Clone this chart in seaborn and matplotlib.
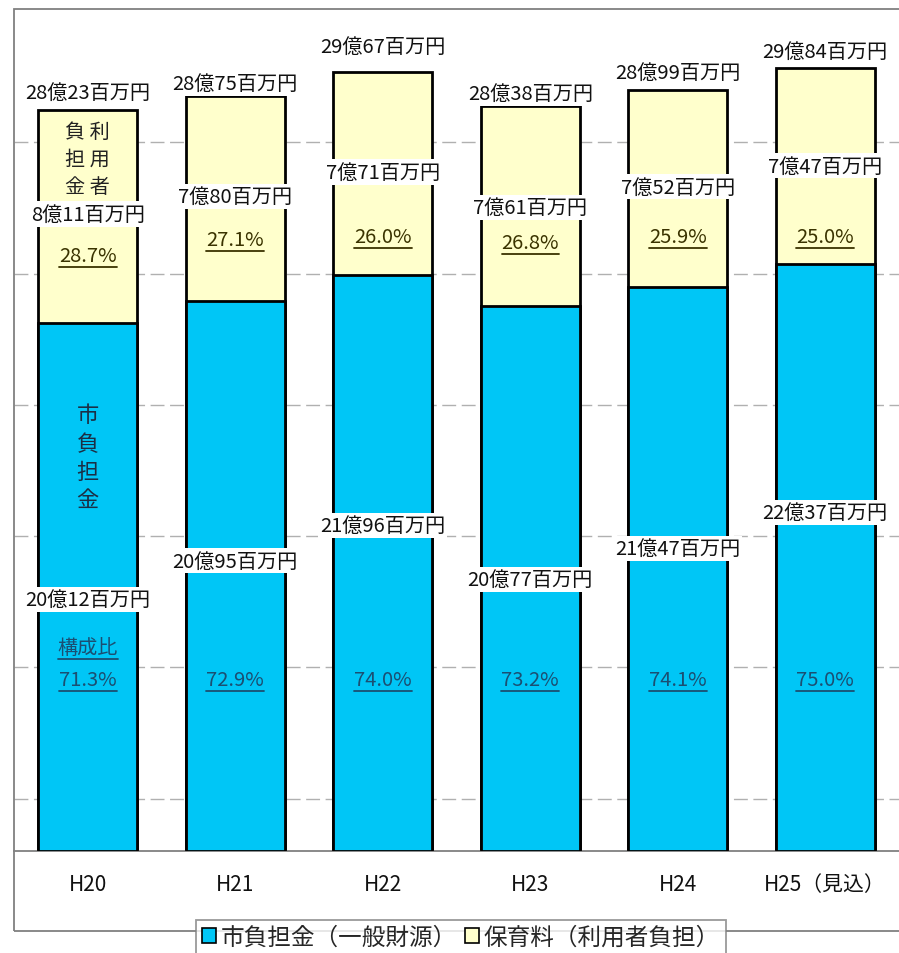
import numpy as np
import pandas as pd
import matplotlib
matplotlib.use('Agg')
import matplotlib.pyplot as plt
import seaborn as sns
from matplotlib.patches import Patch, Rectangle

# ==========================================
# データ (単位: 百万円)
# ==========================================
YEARS = ['H20', 'H21', 'H22', 'H23', 'H24', 'H25（見込）']
CITY = [2012, 2095, 2196, 2077, 2147, 2237]      # 市負担金（一般財源）
FEE = [811, 780, 771, 761, 752, 747]              # 保育料（利用者負担）
CITY_PCT = ['71.3%', '72.9%', '74.0%', '73.2%', '74.1%', '75.0%']
FEE_PCT = ['28.7%', '27.1%', '26.0%', '26.8%', '25.9%', '25.0%']

# ラベル配置 (百万円スケールの高さ)
TOTAL_LABEL_Y = [2891, 2926, 3067, 2888, 2968, 3048]
FEE_LABEL_Y = [2427, 2495, 2587, 2453, 2530, 2610]
FEE_PCT_Y = [2270, 2330, 2340, 2320, 2343, 2343]
CITY_LABEL_Y = [960, 1105, 1240, 1036, 1154, 1290]
CITY_PCT_Y = 655

BLUE = '#00C6F6'
YELLOW = '#FFFFCC'


def fmt_oku(v):
    return f'{v // 100}億{v % 100:02d}百万円'


def main():
    df = pd.DataFrame({'year': YEARS, 'city': CITY, 'fee': FEE})
    df['total'] = df['city'] + df['fee']

    sns.set_theme(style='white')
    plt.rcParams['font.family'] = ['Noto Sans CJK JP', 'DejaVu Sans']

    fig = plt.figure(figsize=(8.99, 9.54), dpi=100)
    ax = fig.add_axes([14 / 899, 102 / 954, 885 / 899, 842 / 954])

    # 外枠
    frame = Rectangle((14 / 899, 1 - 932 / 954), 1.0, 922 / 954,
                      transform=fig.transFigure, fill=False,
                      edgecolor='#808080', lw=1.3, zorder=0)
    fig.patches.append(frame)

    # 積み上げ棒
    sns.barplot(data=df, x='year', y='total', color=YELLOW, saturation=1,
                edgecolor='black', linewidth=2, width=0.67, ax=ax, zorder=2)
    sns.barplot(data=df, x='year', y='city', color=BLUE, saturation=1,
                edgecolor='black', linewidth=2, width=0.67, ax=ax, zorder=3)

    ax.set_xlim(-0.5, 5.5)
    ax.set_ylim(0, 3208)
    ax.set_yticks([200, 700, 1200, 1700, 2200, 2700])
    ax.set_yticklabels([])
    ax.yaxis.grid(True, linestyle=(0, (10, 4)), color='#b0b0b0', lw=1)
    ax.set_axisbelow(True)
    ax.set_xlabel('')
    ax.set_ylabel('')
    for s in ['left', 'top', 'right']:
        ax.spines[s].set_visible(False)
    ax.spines['bottom'].set_color('#808080')
    ax.spines['bottom'].set_linewidth(1.3)
    ax.tick_params(axis='y', length=0)
    ax.tick_params(axis='x', which='major', length=0, pad=16, labelsize=15,
                   labelcolor='#111111')
    ax.set_xticks(np.arange(0.5, 5, 1), minor=True)
    ax.tick_params(axis='x', which='minor', direction='in', length=6,
                   color='#808080', width=1)

    white = dict(boxstyle='square,pad=0.1', fc='white', ec='none')
    underline = []
    for i in range(len(YEARS)):
        ax.text(i, TOTAL_LABEL_Y[i], fmt_oku(int(df['total'][i])), ha='center',
                va='center', fontsize=14.5, color='#111111', bbox=white,
                zorder=5, clip_on=False)
        ax.text(i, FEE_LABEL_Y[i], fmt_oku(FEE[i]), ha='center', va='center',
                fontsize=14.5, color='#111111', bbox=white, zorder=5)
        ax.text(i, CITY_LABEL_Y[i], fmt_oku(CITY[i]), ha='center', va='center',
                fontsize=14.5, color='#111111', bbox=white, zorder=5)
        t1 = ax.text(i, FEE_PCT_Y[i], FEE_PCT[i], ha='center', va='center',
                     fontsize=14.5, color='#3a3300', zorder=5)
        t2 = ax.text(i, CITY_PCT_Y, CITY_PCT[i], ha='center', va='center',
                     fontsize=14.5, color='#1b4f72', zorder=5)
        underline += [(t1, '#3a3300'), (t2, '#1b4f72')]

    # H20 の説明文字
    ax.text(0, 1500, '市\n負\n担\n金', ha='center', va='center', fontsize=16,
            linespacing=1.3, color='#1b2f45', zorder=5)
    ax.text(0, 2636, '負 利\n担 用\n金 者', ha='center', va='center',
            fontsize=14.5, linespacing=1.4, color='#222222', zorder=5)
    t3 = ax.text(0, 777, '構成比', ha='center', va='center', fontsize=14.5,
                 color='#1b4f72', zorder=5)
    underline.append((t3, '#1b4f72'))

    # 下線
    fig.canvas.draw()
    renderer = fig.canvas.get_renderer()
    inv = ax.transData.inverted()
    for t, c in underline:
        bb = t.get_window_extent(renderer)
        (x0, y0), (x1, _) = inv.transform([(bb.x0, bb.y0 - 1), (bb.x1, bb.y0)])
        ax.plot([x0, x1], [y0, y0], color=c, lw=1.3, zorder=5)

    handles = [Patch(facecolor=BLUE, edgecolor='black', lw=1.2,
                     label='市負担金（一般財源）'),
               Patch(facecolor=YELLOW, edgecolor='black', lw=1.2,
                     label='保育料（利用者負担）')]
    leg = fig.legend(handles=handles, loc='upper center',
                     bbox_to_anchor=(461 / 899, 1 - 921 / 954), ncol=2,
                     fontsize=17, frameon=True, fancybox=False,
                     edgecolor='#808080', handlelength=0.6, handleheight=0.6,
                     handletextpad=0.2, columnspacing=0.3, borderpad=0.25,
                     borderaxespad=0)
    leg.get_frame().set_linewidth(1.3)
    leg.set_zorder(10)

    fig.savefig('out.png', dpi=100)


if __name__ == '__main__':
    main()
